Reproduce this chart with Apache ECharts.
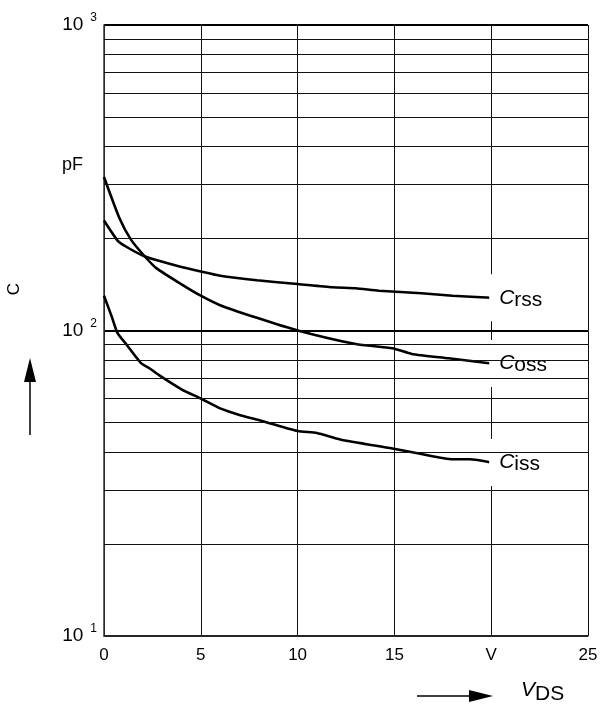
<!DOCTYPE html>
<html>
<head>
<meta charset="utf-8">
<script src="https://cdn.jsdelivr.net/npm/echarts@6/dist/echarts.min.js"></script>
<style>
  html, body { margin: 0; padding: 0; background: #fff; }
  #chart { width: 600px; height: 708px; }
</style>
</head>
<body>
<div id="chart"></div>
<script>
// capacitance vs drain-source voltage
var crssX = [0, 0.7, 1.15, 2, 2.7, 3.9, 5, 6, 7.9, 10, 11.8, 13, 14.2, 16.4, 18, 20];
var crssY = [229, 197, 188, 176, 170, 162, 156, 151, 146, 142, 138.5, 137.5, 135, 132.4, 130, 128];

var cossX = [0, 0.8, 1.4, 2.1, 2.7, 3.9, 5, 6, 7.9, 10, 13, 14.9, 15.9, 17.8, 20];
var cossY = [318, 233, 198, 175, 160, 143, 130, 121, 110, 100, 90.3, 87.5, 83.8, 81.1, 78];

var cissX = [0, 0.4, 0.7, 1.1, 1.9, 2.4, 2.9, 4, 5, 6, 7, 7.9, 10, 11, 12.2, 14.9, 16.4, 18, 18.9, 20];
var cissY = [130, 111, 98, 91, 78.4, 74.8, 71, 64.2, 59.9, 55.6, 52.9, 51.1, 46.9, 46.2, 44, 41.1, 39.4, 37.9, 37.9, 37];

// log grid lines between the decades
var minorGrid = [20, 30, 40, 50, 60, 70, 80, 90, 200, 300, 400, 500, 600, 700, 800, 900];
var xTickLabels = { 0: '0', 5: '5', 10: '10', 15: '15', 20: 'V', 25: '25' };

var FONT = '"Liberation Sans", Arial, sans-serif';

function pairs(xs, ys) {
    return xs.map(function (x, i) { return [x, ys[i]]; });
}

function curveLabel(sub) {
    return {
        show: true,
        formatter: '{c|C}{s|' + sub + '}',
        backgroundColor: '#fff',
        padding: [11, 14, 11, 10],
        distance: -2,
        rich: {
            c: { fontFamily: FONT, fontSize: 21, fontStyle: 'italic', color: '#000' },
            s: { fontFamily: FONT, fontSize: 21, color: '#000', padding: [4, 0, 0, 0] }
        }
    };
}

function curve(name, xs, ys, sub) {
    return {
        name: name,
        type: 'line',
        data: pairs(xs, ys),
        showSymbol: false,
        smooth: 0.2,
        lineStyle: { color: '#000', width: 2.6 },
        endLabel: curveLabel(sub),
        z: 3
    };
}

var chart = echarts.init(document.getElementById('chart'));

chart.setOption({
    animation: false,
    backgroundColor: '#fff',
    grid: { left: 104, right: 12, top: 25, bottom: 72, outerBoundsMode: 'none' },
    xAxis: {
        type: 'value',
        min: 0,
        max: 25,
        interval: 5,
        axisLine: { show: true, lineStyle: { color: '#333', width: 1.5 } },
        axisTick: { show: false },
        axisLabel: {
            margin: 11,
            fontFamily: FONT,
            fontSize: 17,
            color: '#000',
            formatter: function (v) { return xTickLabels[v]; }
        },
        splitLine: { show: true, lineStyle: { color: '#111', width: 1 } }
    },
    yAxis: {
        type: 'log',
        logBase: 10,
        min: 10,
        max: 1000,
        axisLine: { show: true, lineStyle: { color: '#333', width: 1.5 } },
        axisTick: { show: false },
        axisLabel: {
            margin: 7,
            formatter: function (v) {
                return '{b|10}{s|' + Math.round(Math.log10(v)) + '}';
            },
            rich: {
                b: { fontFamily: FONT, fontSize: 19, color: '#000', lineHeight: 26 },
                s: { fontFamily: FONT, fontSize: 12, color: '#000', lineHeight: 10,
                     verticalAlign: 'top', padding: [0, 0, 0, 7] }
            }
        },
        splitLine: { show: true, lineStyle: { color: '#000', width: 2 } }
    },
    series: [
        {
            name: 'grid',
            type: 'line',
            data: [],
            z: 1,
            markLine: {
                silent: true,
                symbol: ['none', 'none'],
                label: { show: false },
                lineStyle: { color: '#111', width: 1.2, type: 'solid' },
                data: minorGrid.map(function (v) { return { yAxis: v }; })
            }
        },
        curve('Crss', crssX, crssY, 'rss'),
        curve('Coss', cossX, cossY, 'oss'),
        curve('Ciss', cissX, cissY, 'iss')
    ],
    graphic: [
        { type: 'text', left: 62, top: 156, style: { text: 'pF', font: '18px ' + FONT, fill: '#000' } },
        { type: 'text', x: 14, y: 289, rotation: Math.PI / 2,
          style: { text: 'C', font: '17px ' + FONT, fill: '#000', align: 'center', verticalAlign: 'middle' } },
        // vertical arrow
        { type: 'line', shape: { x1: 30, y1: 435, x2: 30, y2: 378 }, style: { stroke: '#000', lineWidth: 1.5 } },
        { type: 'polygon', shape: { points: [[30, 358], [24, 382], [36, 382]] }, style: { fill: '#000' } },
        // horizontal arrow
        { type: 'line', shape: { x1: 417, y1: 696, x2: 474, y2: 696 }, style: { stroke: '#000', lineWidth: 1.5 } },
        { type: 'polygon', shape: { points: [[493, 696], [469, 690], [469, 702]] }, style: { fill: '#000' } },
        { type: 'text', left: 521, top: 680,
          style: {
              text: '{v|V}{d|DS}',
              rich: {
                  v: { fontFamily: FONT, fontSize: 21, fontStyle: 'italic', color: '#000' },
                  d: { fontFamily: FONT, fontSize: 21, color: '#000', padding: [8, 0, 0, 0] }
              }
          } }
    ]
});
</script>
</body>
</html>
